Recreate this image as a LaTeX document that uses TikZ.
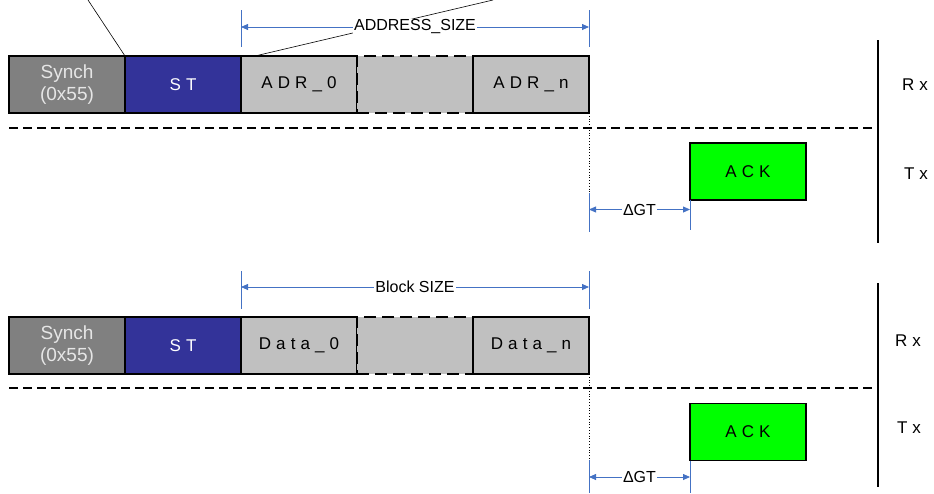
\documentclass[tikz,border=0pt]{standalone}
\usepackage{fontspec}
\setmainfont{Liberation Sans}
\newfontfamily\spaced[LetterSpace=30]{Liberation Sans}
\usetikzlibrary{arrows.meta, positioning}
\definecolor{synchgray}{RGB}{128,128,128}
\definecolor{synchtext}{RGB}{230,230,230}
\definecolor{stblue}{RGB}{51,51,153}
\definecolor{fieldgray}{RGB}{192,192,192}
\definecolor{ackgreen}{RGB}{0,255,0}
\definecolor{dimblue}{RGB}{68,114,196}

\begin{document}
\begin{tikzpicture}[x=1pt, y=-1pt,
  field/.style={draw=black, line width=1.2pt, fill=fieldgray, minimum width=116pt,
    minimum height=57pt, inner sep=0pt, outer sep=0pt,
    font=\fontsize{17}{20}\selectfont\spaced},
  synchfield/.style={field, fill=synchgray, text=synchtext, align=center,
    font=\fontsize{19}{22}\selectfont},
  gapfield/.style={field, dash pattern=on 12pt off 6pt},
  sidelabel/.style={font=\fontsize{17}{20}\selectfont\spaced},
  sepline/.style={line width=1.2pt, dash pattern=on 9pt off 5pt},
  bar/.style={line width=1.2pt},
  dimtick/.style={dimblue, line width=0.8pt},
  dimarrow/.style={dimblue, line width=0.8pt, {Triangle[length=7pt,width=6pt]}-{Triangle[length=7pt,width=6pt]}},
  dimlabel/.style={fill=white, text=black, inner sep=1pt, font=\fontsize{16}{19}\selectfont},
  leader/.style={line width=0.6pt}]
  \useasboundingbox (0,0) rectangle (934,493);

  % address frame
  \coordinate (leadA) at (88,0);
  \coordinate (leadB) at (493,0);
  \node[synchfield] (synchA) at (67,84.5) {Synch\\(0x55)};
  \node[field, fill=stblue, text=white, right=0pt of synchA] (stA) {ST};
  \node[field, right=0pt of stA] (adrfirst) {ADR\_0};
  \node[gapfield, right=0pt of adrfirst] (adrgap) {};
  \node[field, right=0pt of adrgap] (adrlast) {ADR\_n};
  \node[field, fill=ackgreen] (ackA) at (748,171.5) {ACK};
  \node[sidelabel] (rxA) at (915,85) {Rx};
  \node[sidelabel] (txA) at (916,174) {Tx};
  \draw[leader] (stA.north west) -- (leadA);
  \draw[leader] ([xshift=14pt]adrfirst.north west) -- (leadB);

  \coordinate (sepAl) at (9,128); \coordinate (sepAr) at (878,128);
  \draw[sepline] (sepAl) -- (sepAr);
  \coordinate (barAt) at (878,40); \coordinate (barAb) at (878,243);
  \draw[bar] (barAt) -- (barAb);
  \coordinate (dotA) at (589,232);
  \draw[dotted, line width=0.8pt] (adrlast.south east) -- (dotA);

  \draw[dimtick] (241,10) -- (241,47); \draw[dimtick] (589,10) -- (589,47);
  \coordinate (dimAl) at (241,27); \coordinate (dimAr) at (589,27);
  \draw[dimarrow] (dimAl) -- node[dimlabel] {ADDRESS\_SIZE} (dimAr);
  \draw[dimtick] (589,193) -- (589,232); \draw[dimtick] (ackA.south west) -- ++(0,30);
  \coordinate (gtAl) at (589,209.5); \coordinate (gtAr) at (690,209.5);
  \draw[dimarrow] (gtAl) -- node[dimlabel] {ΔGT} (gtAr);

  % data frame
  \node[synchfield] (synchB) at (67,345.5) {Synch\\(0x55)};
  \node[field, fill=stblue, text=white, right=0pt of synchB] (stB) {ST};
  \node[field, right=0pt of stB] (datafirst) {Data\_0};
  \node[gapfield, right=0pt of datafirst] (datagap) {};
  \node[field, right=0pt of datagap] (datalast) {Data\_n};
  \node[field, fill=ackgreen] (ackB) at (748,432) {ACK};
  \node[sidelabel] (rxB) at (908,341) {Rx};
  \node[sidelabel] (txB) at (909,428) {Tx};

  \coordinate (sepBl) at (9,388); \coordinate (sepBr) at (878,388);
  \draw[sepline] (sepBl) -- (sepBr);
  \coordinate (barBt) at (878,283); \coordinate (barBb) at (878,487);
  \draw[bar] (barBt) -- (barBb);
  \coordinate (dotB) at (589,493);
  \draw[dotted, line width=0.8pt] (datalast.south east) -- (dotB);

  \draw[dimtick] (241,271) -- (241,309); \draw[dimtick] (589,271) -- (589,309);
  \coordinate (dimBl) at (241,287); \coordinate (dimBr) at (589,287);
  \draw[dimarrow] (dimBl) -- node[dimlabel] {Block SIZE} (dimBr);
  \draw[dimtick] (589,460) -- (589,493); \draw[dimtick] (ackB.south west) -- ++(0,32);
  \coordinate (gtBl) at (589,477); \coordinate (gtBr) at (690,477);
  \draw[dimarrow] (gtBl) -- node[dimlabel] {ΔGT} (gtBr);
\end{tikzpicture}
\end{document}
